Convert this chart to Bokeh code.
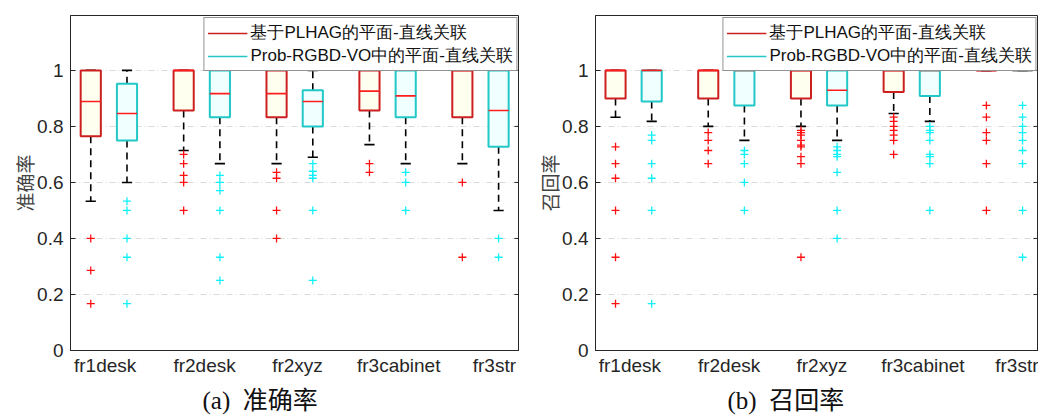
from bokeh.plotting import figure
from bokeh.layouts import row
from bokeh.models import (FixedTicker, NumeralTickFormatter, Legend, LegendItem, Title)
from bokeh.embed import file_html
from bokeh.resources import INLINE

# ---------------- data ----------------
groups = ["fr1desk", "fr2desk", "fr2xyz", "fr3cabinet", "fr3str"]
series_names = ["基于PLHAG的平面-直线关联", "Prob-RGBD-VO中的平面-直线关联"]
y_ticks = [0, 0.2, 0.4, 0.6, 0.8, 1.0]

# (a) precision - PLHAG
prec_a_q1 = [0.765, 0.857, 0.833, 0.857, 0.833]
prec_a_med = [0.889, 1.0, 0.917, 0.926, 1.0]
prec_a_q3 = [1.0, 1.0, 1.0, 1.0, 1.0]
prec_a_lo = [0.533, 0.714, 0.667, 0.735, 0.667]
prec_a_hi = [1.0, 1.0, 1.0, 1.0, 1.0]
prec_a_out = [[0.4, 0.286, 0.167], [0.7, 0.667, 0.625, 0.6, 0.5],
              [0.636, 0.615, 0.5, 0.4], [0.667, 0.636], [0.6, 0.333]]
# (a) precision - Prob-RGBD-VO
prec_b_q1 = [0.75, 0.833, 0.8, 0.833, 0.727]
prec_b_med = [0.846, 0.917, 0.889, 0.909, 0.857]
prec_b_q3 = [0.952, 1.0, 0.929, 1.0, 1.0]
prec_b_lo = [0.6, 0.667, 0.69, 0.667, 0.5]
prec_b_hi = [1.0, 1.0, 1.0, 1.0, 1.0]
prec_b_out = [[0.533, 0.5, 0.4, 0.333, 0.167], [0.625, 0.6, 0.571, 0.5, 0.333, 0.25],
              [0.667, 0.64, 0.625, 0.615, 0.5, 0.25], [0.636, 0.6, 0.5], [0.4, 0.333]]

# (b) recall - PLHAG
rec_a_q1 = [0.9, 0.9, 0.9, 0.923, 1.0]
rec_a_med = [1.0, 1.0, 1.0, 1.0, 1.0]
rec_a_q3 = [1.0, 1.0, 1.0, 1.0, 1.0]
rec_a_lo = [0.833, 0.8, 0.8, 0.846, 1.0]
rec_a_hi = [1.0, 1.0, 1.0, 1.0, 1.0]
rec_a_out = [[0.727, 0.667, 0.615, 0.5, 0.333, 0.167],
             [0.778, 0.75, 0.714, 0.667],
             [0.786, 0.778, 0.769, 0.75, 0.733, 0.727, 0.692, 0.667, 0.333],
             [0.833, 0.818, 0.8, 0.786, 0.769, 0.75, 0.7],
             [0.875, 0.833, 0.778, 0.75, 0.667, 0.5]]
# (b) recall - Prob-RGBD-VO
rec_b_q1 = [0.889, 0.875, 0.875, 0.909, 1.0]
rec_b_med = [1.0, 1.0, 0.929, 1.0, 1.0]
rec_b_q3 = [1.0, 1.0, 1.0, 1.0, 1.0]
rec_b_lo = [0.818, 0.75, 0.75, 0.818, 1.0]
rec_b_hi = [1.0, 1.0, 1.0, 1.0, 1.0]
rec_b_out = [[0.769, 0.75, 0.667, 0.615, 0.5, 0.167],
             [0.714, 0.7, 0.667, 0.6, 0.5],
             [0.727, 0.714, 0.7, 0.692, 0.636, 0.5, 0.4],
             [0.8, 0.786, 0.778, 0.75, 0.7, 0.692, 0.667, 0.5],
             [0.875, 0.833, 0.8, 0.778, 0.75, 0.714, 0.667, 0.5, 0.333]]

# ---------------- style ----------------
AX = "#262626"
RED_EDGE = "#CC2020"
CYAN_EDGE = "#22C8C8"
MED = "#FF1E1E"
RED_FILL = "#FFFFF0"
CYAN_FILL = "#F0FFFF"
OUT_RED = "#FF1010"
OUT_CYAN = "#10F0F8"
SANS = "'Liberation Sans', 'Noto Sans CJK SC'"
SERIF = "'Liberation Serif', 'Noto Sans CJK SC'"
BOX_W = 0.217
OFF = 0.195
CAP = 0.11
label_shift = [-0.04, 0.03, 0.03, 0.12, 0.15]


def draw_series(p, off, q1, med, q3, lo, hi, out, edge, fill, oc):
    xs = [i + 1 + off for i in range(len(groups))]
    # whiskers and caps first, so boxes sitting on them stay on top
    p.segment(x0=xs, y0=q3, x1=xs, y1=hi, line_color="black", line_width=1.6, line_dash="7 5")
    p.segment(x0=xs, y0=q1, x1=xs, y1=lo, line_color="black", line_width=1.6, line_dash="7 5")
    p.segment(x0=[x - CAP / 2 for x in xs], y0=hi, x1=[x + CAP / 2 for x in xs], y1=hi,
              line_color="black", line_width=1.6)
    p.segment(x0=[x - CAP / 2 for x in xs], y0=lo, x1=[x + CAP / 2 for x in xs], y1=lo,
              line_color="black", line_width=1.6)
    p.quad(left=[x - BOX_W / 2 for x in xs], right=[x + BOX_W / 2 for x in xs],
           bottom=q1, top=q3, fill_color=fill, line_color=edge, line_width=2)
    p.segment(x0=[x - BOX_W / 2 for x in xs], y0=med, x1=[x + BOX_W / 2 for x in xs], y1=med,
              line_color=MED, line_width=1.6)
    ox, oy = [], []
    for x, vals in zip(xs, out):
        for v in vals:
            ox.append(x)
            oy.append(v)
    p.scatter(ox, oy, marker="cross", size=8, line_color=oc, line_width=1.3)
    # invisible renderer used only for the legend swatch
    return p.line(x=xs, y=med, line_color=edge, line_width=1.6, visible=False)


def make_panel(x_range, width, border_left, caption, ylabel, data_a, data_b):
    p = figure(width=width, height=419, x_range=x_range, y_range=(0, 1.196),
               output_backend="svg", toolbar_location=None,
               min_border_left=border_left, min_border_right=0,
               min_border_top=15, min_border_bottom=69)
    p.background_fill_color = "white"
    p.border_fill_color = "white"
    p.outline_line_color = AX
    p.outline_line_width = 1
    p.xgrid.visible = False
    p.ygrid.grid_line_color = "#DADADA"
    p.ygrid.grid_line_dash = "6 3 1 3"
    p.ygrid.grid_line_width = 1
    p.ygrid.ticker = FixedTicker(ticks=y_ticks)

    p.yaxis.ticker = FixedTicker(ticks=y_ticks)
    p.yaxis.formatter = NumeralTickFormatter(format="0.[0]")
    p.yaxis.major_tick_in = 5
    p.yaxis.major_tick_out = 0
    p.yaxis.minor_tick_line_color = None
    p.yaxis.axis_line_color = AX
    p.yaxis.major_tick_line_color = AX
    p.yaxis.major_label_text_color = AX
    p.yaxis.major_label_text_font = SANS
    p.yaxis.major_label_text_font_size = "19px"
    p.yaxis.major_label_standoff = 7
    p.yaxis.axis_label = ylabel
    p.yaxis.axis_label_text_font = "'Noto Sans CJK SC'"
    p.yaxis.axis_label_text_font_size = "19px"
    p.yaxis.axis_label_text_font_style = "normal"
    p.yaxis.axis_label_text_color = "#444444"
    p.yaxis.axis_label_standoff = -4

    tick_pos = [i + 1 + s for i, s in enumerate(label_shift)]
    p.xaxis.ticker = FixedTicker(ticks=tick_pos)
    p.xaxis.major_label_overrides = {t: g for t, g in zip(tick_pos, groups)}
    p.xaxis.major_tick_in = 0
    p.xaxis.major_tick_out = 0
    p.xaxis.minor_tick_line_color = None
    p.xaxis.axis_line_color = AX
    p.xaxis.major_label_text_color = AX
    p.xaxis.major_label_text_font = SANS
    p.xaxis.major_label_text_font_size = "19px"
    p.xaxis.major_label_standoff = 4

    p.add_layout(Title(text=caption, align="left", offset=132, text_font=SERIF,
                       text_font_size="25px", text_font_style="normal",
                       text_color="#111111", standoff=12), "below")

    # inward tick marks on the right frame edge (MATLAB "box on")
    p.scatter(x=[x_range[1]] * len(y_ticks), y=y_ticks, marker="dash", size=10,
              line_color=AX, line_width=1)

    l1 = draw_series(p, -OFF, *data_a, RED_EDGE, RED_FILL, OUT_RED)
    l2 = draw_series(p, OFF, *data_b, CYAN_EDGE, CYAN_FILL, OUT_CYAN)

    leg = Legend(items=[LegendItem(label=series_names[0], renderers=[l1]),
                        LegendItem(label=series_names[1], renderers=[l2])],
                 location="top_right", margin=2, padding=3, spacing=0,
                 glyph_width=40, glyph_height=20, label_height=20, label_standoff=3,
                 label_text_font="Liberation Sans", label_text_font_size="17px",
                 label_text_color="#111111",
                 border_line_color="#262626", border_line_width=1, background_fill_alpha=1,
                 inactive_fill_alpha=0)
    p.add_layout(leg)
    return p


p1 = make_panel((0.587, 5.42), 519, 70, "(a)\u00a0\u00a0准确率", "准确率",
                (prec_a_q1, prec_a_med, prec_a_q3, prec_a_lo, prec_a_hi, prec_a_out),
                (prec_b_q1, prec_b_med, prec_b_q3, prec_b_lo, prec_b_hi, prec_b_out))
p2 = make_panel((0.589, 5.367), 519, 76, "(b)\u00a0\u00a0召回率", "召回率",
                (rec_a_q1, rec_a_med, rec_a_q3, rec_a_lo, rec_a_hi, rec_a_out),
                (rec_b_q1, rec_b_med, rec_b_q3, rec_b_lo, rec_b_hi, rec_b_out))

layout = row(p1, p2)
open("out.html", "w").write(file_html(layout, INLINE))
